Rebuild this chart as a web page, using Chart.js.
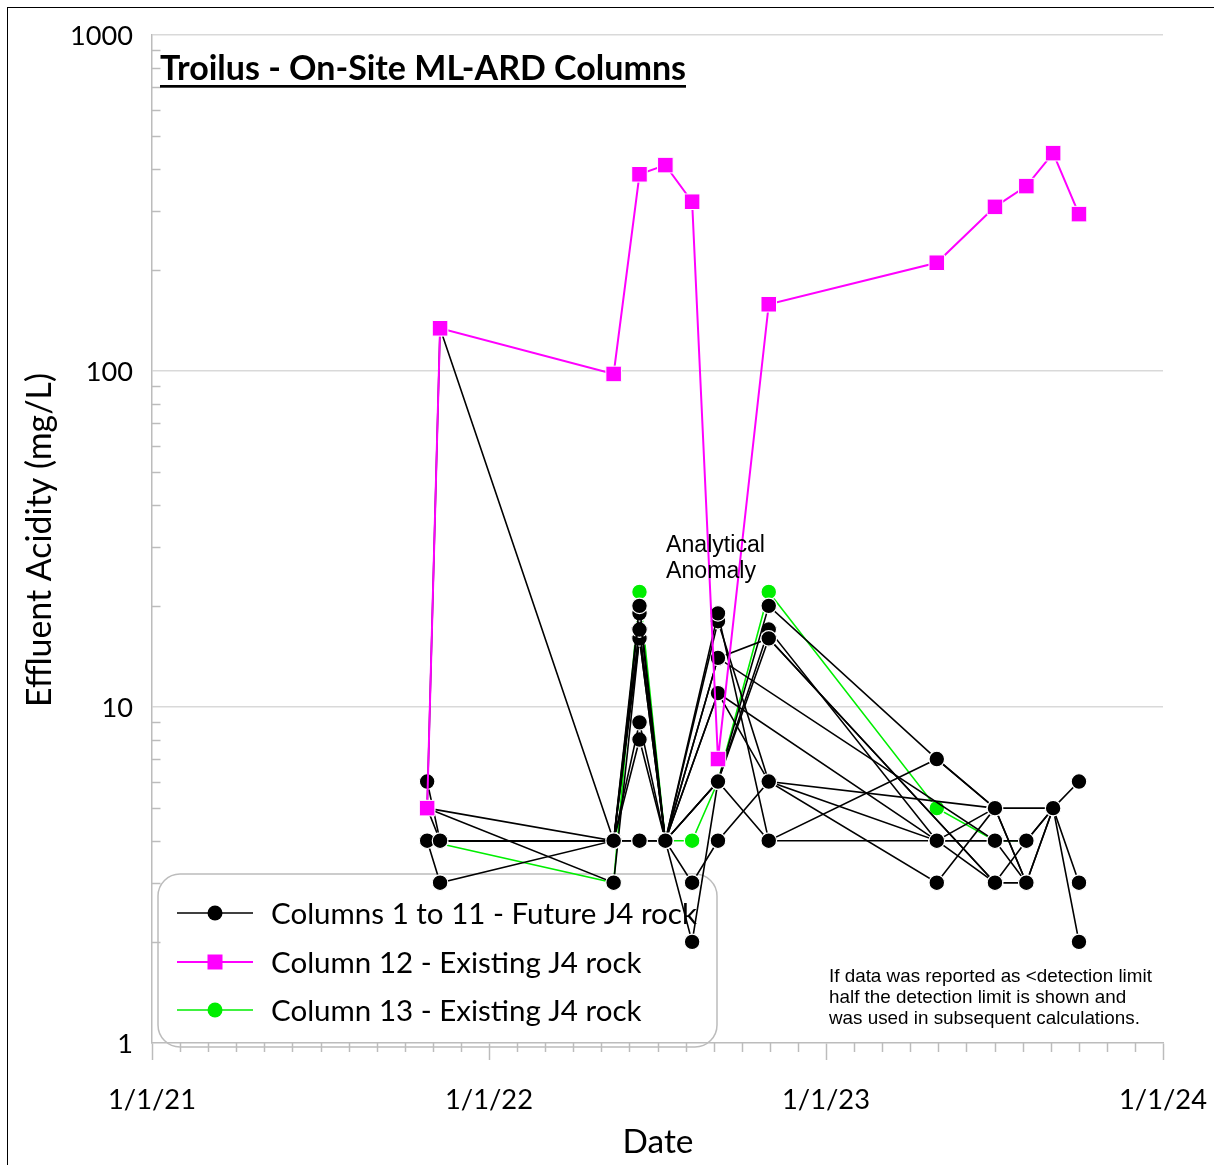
<!DOCTYPE html>
<html>
<head>
<meta charset="utf-8">
<title>Troilus - On-Site ML-ARD Columns</title>
<script src="https://cdn.jsdelivr.net/npm/chart.js@4.4.0/dist/chart.umd.min.js"></script>
<style>
  html, body { margin: 0; padding: 0; background: #fff; }
  canvas { display: block; }
</style>
</head>
<body>
<canvas id="chart" width="1214" height="1165"></canvas>
<script>
// Sampling dates of the column effluent (ISO strings)
const sampleDates = [
  '2021-10-26', '2021-11-09', '2022-05-16', '2022-06-13', '2022-07-11',
  '2022-08-09', '2022-09-06', '2022-10-31', '2023-05-01', '2023-07-03',
  '2023-08-06', '2023-09-04', '2023-10-02'
];

// Effluent acidity (mg/L), one value per sampling date, null = not sampled
const col1  = [6, 4, 4, 20, 4, null, 19, 4, 7, 5, null, 5, 6];
const col2  = [4, 3, 4, 19, 4, null, 18, 6, 3, 5, 3, 5, 3];
const col3  = [5, null, 4, 17, 4, null, 14, 16, null, 3, 4, 5, 2];
const col4  = [5, null, 3, 16, 4, null, 11, null, 4, 3, 3, null, null];
const col5  = [5, 134, 4, 16, 4, null, 6, 20, 7, 5, 3, null, null];
const col6  = [5, 4, 4, 9, 4, null, 11, 6, null, 5, null, null, null];
const col7  = [null, 4, 4, 8, 4, null, 6, 17, 4, 4, 3, null, null];
const col8  = [4, 4, 4, 4, 4, 3, 4, 6, 4, 5, null, null, null];
const col9  = [null, 4, 4, 17, 4, null, 14, null, null, 4, 4, null, null];
const col10 = [null, 4, 4, 4, 4, 2, 6, 16, null, 3, 3, 5, null];
const col11 = [null, 4, 4, 4, 4, null, 6, 4, 4, 4, 4, 5, null];
const col12 = [5, 134, 98, 385, 410, 319, 7, 158, 210, 308, 355, 445, 293];
const col13 = [4, null, 3, 22, 4, 4, 6, 22, 5, 4, 4, null, null];

// Axis ticks
const xTickDates  = ['2021-01-01', '2022-01-01', '2023-01-01', '2024-01-01'];
const xTickLabels = ['1/1/21', '1/1/22', '1/1/23', '1/1/24'];
const yTickValues = [1, 10, 100, 1000];
const yTickLabels = ['1', '10', '100', '1000'];

// Text
const chartTitle  = 'Troilus - On-Site ML-ARD Columns';
const yAxisTitle  = 'Effluent Acidity (mg/L)';
const xAxisTitle  = 'Date';
const legendLabels = [
  'Columns 1 to 11 - Future J4 rock',
  'Column 12 - Existing J4 rock',
  'Column 13 - Existing J4 rock'
];
const anomalyNote = ['Analytical', 'Anomaly'];
const detectionNote = [
  'If data was reported as <detection limit',
  'half the detection limit is shown and',
  'was used in subsequent calculations.'
];

// ---- helpers ----
const ORIGIN = Date.UTC(2021, 0, 1);
function dayOf(iso) {
  const [y, m, d] = iso.split('-').map(Number);
  return (Date.UTC(y, m - 1, d) - ORIGIN) / 86400000;
}
function toPoints(values) {
  return sampleDates
    .map((d, i) => ({ x: dayOf(d), y: values[i] }))
    .filter(p => p.y !== null);
}
const BLACK = '#000000', PINK = '#ff00ff', GREEN = '#00ee00';
const AXIS_GREY = '#bcbcbc', GRID_GREY = '#d9d9d9';
const SANS = 'Lato, "Noto Sans", sans-serif';
const ARIAL = '"Liberation Sans", Arial, sans-serif';

// pick a font size so that a text spans a given width
function fitSize(ctx, text, weight, family, width) {
  ctx.font = `${weight} 100px ${family}`;
  return 100 * width / ctx.measureText(text).width;
}

const blackCols = [col1, col2, col3, col4, col5, col6, col7, col8, col9, col10, col11];

const datasets = blackCols.map((vals, i) => ({
  label: 'Column ' + (i + 1),
  data: toPoints(vals),
  borderColor: BLACK,
  backgroundColor: BLACK,
  borderWidth: 1.6,
  pointRadius: 7.8,
  pointBackgroundColor: BLACK,
  pointBorderColor: '#ffffff',
  pointBorderWidth: 1.2,
  tension: 0,
  order: 1
}));
datasets.push({
  label: 'Column 12',
  data: toPoints(col12),
  borderColor: PINK,
  backgroundColor: PINK,
  borderWidth: 2,
  pointStyle: 'rect',
  pointRadius: 11,
  pointBackgroundColor: PINK,
  pointBorderColor: '#ffffff',
  pointBorderWidth: 1,
  tension: 0,
  order: 0
});
datasets.push({
  label: 'Column 13',
  data: toPoints(col13),
  borderColor: GREEN,
  backgroundColor: GREEN,
  borderWidth: 1.6,
  pointRadius: 7.8,
  pointBackgroundColor: GREEN,
  pointBorderColor: '#ffffff',
  pointBorderWidth: 1.2,
  tension: 0,
  order: 2
});

// Legend panel drawn beneath the axes and the data
const legendPanel = {
  id: 'legendPanel',
  beforeDraw(chart) {
    const ctx = chart.ctx;
    ctx.save();
    const L = 158, T = 874, R = 717, B = 1047, rad = 22;
    ctx.beginPath();
    ctx.roundRect(L, T, R - L, B - T, rad);
    ctx.fillStyle = '#ffffff';
    ctx.fill();
    ctx.lineWidth = 1.5;
    ctx.strokeStyle = AXIS_GREY;
    ctx.stroke();

    const rows = [913, 962, 1010];
    const colors = [BLACK, PINK, GREEN];
    const size = fitSize(ctx, legendLabels[0], 'normal', SANS, 426);
    rows.forEach((y, i) => {
      ctx.strokeStyle = colors[i];
      ctx.lineWidth = i === 1 ? 2 : 1.6;
      ctx.beginPath();
      ctx.moveTo(177, y);
      ctx.lineTo(253, y);
      ctx.stroke();
      ctx.fillStyle = colors[i];
      ctx.beginPath();
      if (i === 1) {
        ctx.rect(215 - 7.5, y - 7.5, 15, 15);
      } else {
        ctx.arc(215, y, 7.5, 0, Math.PI * 2);
      }
      ctx.fill();
      ctx.fillStyle = BLACK;
      ctx.font = `normal ${size}px ${SANS}`;
      ctx.textAlign = 'left';
      ctx.textBaseline = 'middle';
      ctx.fillText(legendLabels[i], 271, y + 1);
    });
    ctx.restore();
  }
};

// Tick labels, minor ticks, titles and notes
const decorations = {
  id: 'decorations',
  afterDraw(chart) {
    const ctx = chart.ctx;
    const xs = chart.scales.x, ys = chart.scales.y;
    const area = chart.chartArea;
    ctx.save();

    // minor ticks on the log axis (2..9 of each decade), pointing into the plot
    ctx.strokeStyle = AXIS_GREY;
    ctx.lineWidth = 1.5;
    for (let dec = 1; dec < 1000; dec *= 10) {
      for (let k = 2; k <= 9; k++) {
        const py = Math.round(ys.getPixelForValue(k * dec)) + 0.5;
        ctx.beginPath();
        ctx.moveTo(area.left, py);
        ctx.lineTo(area.left + 8.5, py);
        ctx.stroke();
      }
    }
    // monthly minor ticks on the date axis
    const span = dayOf(xTickDates[xTickDates.length - 1]);
    const months = 36;
    for (let m = 1; m < months; m++) {
      if (m % 12 === 0) continue;
      const px = Math.round(xs.getPixelForValue(span * m / months)) + 0.5;
      ctx.beginPath();
      ctx.moveTo(px, area.bottom);
      ctx.lineTo(px, area.bottom + 9);
      ctx.stroke();
    }

    ctx.fillStyle = BLACK;
    // y tick labels
    const ySize = fitSize(ctx, '1000', 'normal', SANS, 63);
    ctx.font = `normal ${ySize}px ${SANS}`;
    ctx.textAlign = 'right';
    ctx.textBaseline = 'middle';
    yTickValues.forEach((v, i) => {
      ctx.fillText(yTickLabels[i], 133, ys.getPixelForValue(v) + 1);
    });
    // x tick labels
    const xSize = fitSize(ctx, xTickLabels[0], 'normal', SANS, 88);
    ctx.font = `normal ${xSize}px ${SANS}`;
    ctx.textAlign = 'center';
    xTickDates.forEach((d, i) => {
      ctx.fillText(xTickLabels[i], xs.getPixelForValue(dayOf(d)), 1100);
    });
    // axis titles
    const xtSize = fitSize(ctx, xAxisTitle, 'normal', SANS, 71);
    ctx.font = `normal ${xtSize}px ${SANS}`;
    ctx.fillText(xAxisTitle, 658, 1142);
    const ytSize = fitSize(ctx, yAxisTitle, 'normal', SANS, 334);
    ctx.save();
    ctx.translate(40, 540);
    ctx.rotate(-Math.PI / 2);
    ctx.font = `normal ${ytSize}px ${SANS}`;
    ctx.fillText(yAxisTitle, 0, 0);
    ctx.restore();

    // chart title, bold and underlined
    const tSize = fitSize(ctx, chartTitle, 'bold', SANS, 526);
    ctx.font = `bold ${tSize}px ${SANS}`;
    ctx.textAlign = 'left';
    ctx.textBaseline = 'alphabetic';
    ctx.fillText(chartTitle, 160, 80);
    ctx.fillRect(160, 85, 526, 2.7);

    // annotation near the September 2022 sample
    const aSize = fitSize(ctx, anomalyNote[0], 'normal', ARIAL, 99);
    ctx.font = `normal ${aSize}px ${ARIAL}`;
    ctx.textBaseline = 'middle';
    ctx.fillText(anomalyNote[0], 666, 546);
    ctx.fillText(anomalyNote[1], 666, 572);

    // detection limit note
    const nSize = fitSize(ctx, detectionNote[0], 'normal', ARIAL, 323);
    ctx.font = `normal ${nSize}px ${ARIAL}`;
    detectionNote.forEach((line, i) => ctx.fillText(line, 829, 977 + i * 21));

    // frame of the figure
    ctx.strokeStyle = BLACK;
    ctx.lineWidth = 1;
    ctx.strokeRect(7.5, 7.5, 1400, 1400);
    ctx.restore();
  }
};

const majorY = new Set(yTickValues);

new Chart(document.getElementById('chart'), {
  type: 'line',
  data: { datasets },
  options: {
    responsive: false,
    animation: false,
    devicePixelRatio: 1,
    layout: { padding: { top: 35, right: 51, left: 0, bottom: 0 } },
    plugins: { legend: { display: false }, tooltip: { enabled: false } },
    scales: {
      x: {
        type: 'linear',
        min: dayOf(xTickDates[0]),
        max: dayOf(xTickDates[xTickDates.length - 1]),
        afterBuildTicks(scale) {
          scale.ticks = xTickDates.map(d => ({ value: dayOf(d) }));
        },
        afterFit(scale) { scale.height = 122; },
        ticks: { display: false },
        grid: {
          display: true,
          drawOnChartArea: false,
          drawTicks: true,
          tickLength: 17,
          tickColor: AXIS_GREY,
          tickWidth: 1.5
        },
        border: { display: true, color: AXIS_GREY, width: 1.5 }
      },
      y: {
        type: 'logarithmic',
        min: 1,
        max: 1000,
        afterBuildTicks(scale) {
          scale.ticks = yTickValues.map(v => ({ value: v, major: true }));
        },
        afterFit(scale) { scale.width = 152; },
        ticks: { display: false },
        grid: {
          display: true,
          drawTicks: false,
          lineWidth: 1.5,
          color: c => (c.tick && majorY.has(c.tick.value) && c.tick.value !== 1) ? GRID_GREY : 'rgba(0,0,0,0)'
        },
        border: { display: true, color: AXIS_GREY, width: 1.5 }
      }
    }
  },
  plugins: [legendPanel, decorations]
});
</script>
</body>
</html>
